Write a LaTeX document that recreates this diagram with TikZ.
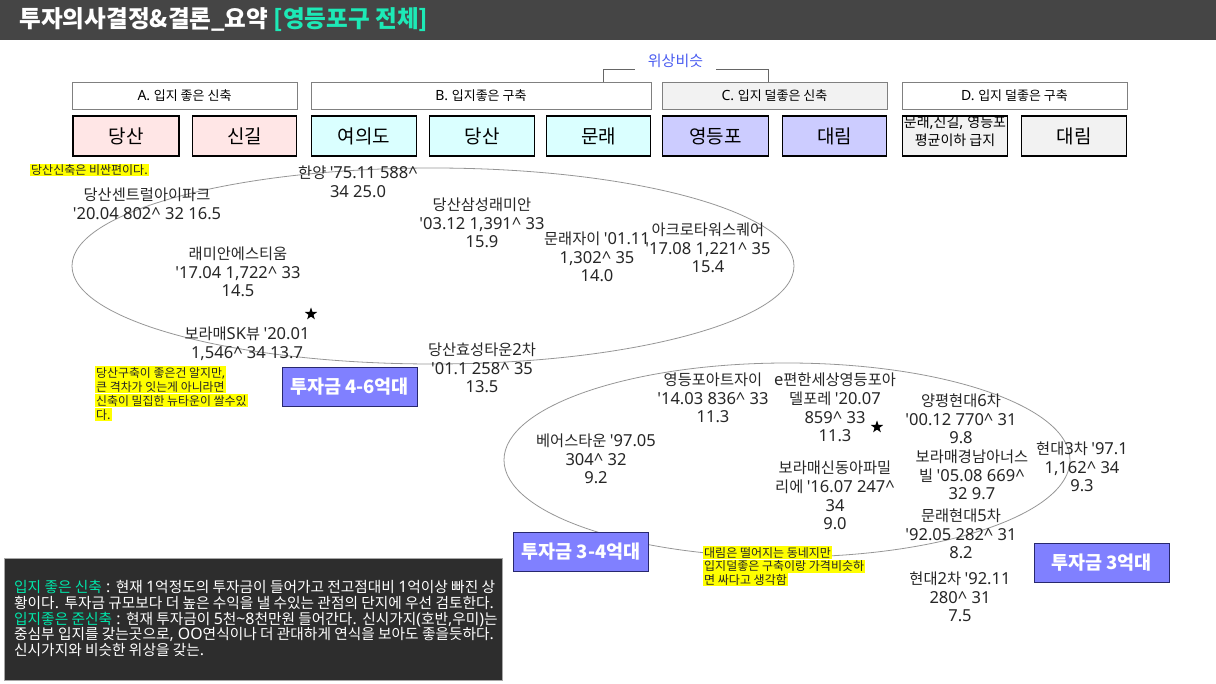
\documentclass[tikz,border=0pt]{standalone}
\usepackage{fontspec}
\newfontfamily\krfont{Noto Sans CJK KR}
\newfontfamily\latfont{Noto Sans}[Scale=1.08]
\usetikzlibrary{shapes.geometric}

% Hangul in the CJK face, everything else in the Latin face
\XeTeXinterchartokenstate=1
\newXeTeXintercharclass\hangulclass
\count255="AC00
\loop
  \XeTeXcharclass\count255=\hangulclass
  \ifnum\count255<"D7A3
  \advance\count255 by 1
\repeat
\XeTeXinterchartoks 0 \hangulclass = {\krfont}
\XeTeXinterchartoks 4095 \hangulclass = {\krfont}
\XeTeXinterchartoks \hangulclass 0 = {\latfont}
\XeTeXinterchartoks 4095 0 = {\latfont}
% bold text stays in the CJK face
\newcommand{\krbold}{\let\latfont\krfont\krfont\bfseries}

\definecolor{barGray}{RGB}{69,69,69}
\definecolor{titleGreen}{RGB}{29,233,182}
\definecolor{simBlue}{RGB}{74,92,240}
\definecolor{pinkFill}{RGB}{255,230,230}
\definecolor{cyanFill}{RGB}{218,255,255}
\definecolor{lavFill}{RGB}{204,204,255}
\definecolor{greyFill}{RGB}{242,242,242}
\definecolor{investFill}{RGB}{128,128,255}
\definecolor{investLine}{RGB}{40,40,110}
\definecolor{noteYellow}{RGB}{255,255,0}
\definecolor{memoDark}{RGB}{45,45,45}
\definecolor{memoGreen}{RGB}{0,230,170}
\definecolor{ringGray}{RGB}{150,150,150}

\setlength{\fboxsep}{1pt}
\newcommand{\hl}[1]{\colorbox{noteYellow}{#1}}
\newcommand{\crt}{\textasciicircum}

\begin{document}
\begin{tikzpicture}[x=1pt,y=-1pt,
  cathead/.style={draw=black!50, line width=0.6pt, minimum height=27pt, inner sep=0pt,
    font=\latfont\fontsize{13}{14}\selectfont},
  areabox/.style={draw=black, line width=1.8pt, minimum height=40pt, inner sep=0pt,
    font=\latfont\fontsize{19}{20}\selectfont},
  apt/.style={align=center, inner sep=0pt, text=black!85,
    font=\latfont\fontsize{15.3}{18.7}\selectfont},
  invest/.style={draw=investLine, fill=investFill, line width=0.8pt, text=white, inner sep=0pt,
    minimum height=39pt, minimum width=135pt, font=\krbold\fontsize{18.5}{20}\selectfont},
  note/.style={align=left, inner sep=0pt, text=black!85},
  starmark/.style={star, star points=5, star point ratio=2.5, fill=black, inner sep=0pt, minimum size=13pt},
  ring/.style={draw=ringGray, line width=0.8pt},
  bracket/.style={draw=black!60, line width=0.6pt}]
\useasboundingbox (0,0) rectangle (1216,684);

% Title bar
\fill[barGray] (0,0) rectangle (1216,40);
\node[anchor=west, text=white, font=\krbold\fontsize{23.6}{26}\selectfont] (title) at (16,20)
  {투자의사결정\&결론\_요약 \textcolor{titleGreen}{[영등포구 전체]}};

% Category headers
\node[cathead, minimum width=225pt] (catA) at (184.5,95.5) {A. 입지 좋은 신축};
\node[cathead, minimum width=340pt] (catB) at (481,95.5) {B. 입지좋은 구축};
\node[cathead, minimum width=225pt, fill=greyFill] (catC) at (774.5,95.5) {C. 입지 덜좋은 신축};
\node[cathead, minimum width=225pt] (catD) at (1014.5,95.5) {D. 입지 덜좋은 구축};

% Similar standing bracket
\node[text=simBlue, font=\latfont\fontsize{15}{16}\selectfont] (simlabel) at (675.5,61) {위상비슷};
\coordinate (brL) at (603,82);
\coordinate (brLm) at (635,69);
\coordinate (brRm) at (716,69);
\coordinate (brR) at (768,82);
\draw[bracket] (brL) |- (brLm);
\draw[bracket] (brRm) -| (brR);

% Areas
\node[areabox, minimum width=106pt, fill=pinkFill] (dangsanA) at (126,136) {당산};
\node[areabox, minimum width=104pt, fill=pinkFill] (singilA) at (244.5,136) {신길};
\node[areabox, minimum width=105pt, fill=cyanFill] (yeouidoB) at (364,136) {여의도};
\node[areabox, minimum width=105pt, fill=cyanFill] (dangsanB) at (482,136) {당산};
\node[areabox, minimum width=104pt, fill=cyanFill] (mullaeB) at (598.5,136) {문래};
\node[areabox, minimum width=106pt, fill=lavFill] (ydpC) at (715.5,136) {영등포};
\node[areabox, minimum width=104pt, fill=lavFill] (daerimC) at (834.5,136) {대림};
\node[areabox, minimum width=105pt, fill=greyFill] (avgD) at (955,136) {};
\node[align=center, inner sep=0pt, font=\latfont\fontsize{14}{18}\selectfont] (avgtext) at (955,131.5)
  {문래,신길, 영등포\\평균이하 급지};
\node[areabox, minimum width=105pt, fill=greyFill] (daerimD) at (1074,136) {대림};

% Price groups
\draw[ring] (433,266) ellipse [x radius=361, y radius=98];
\draw[ring] (787,460) ellipse [x radius=283, y radius=97];

% Complexes, 4-6
\node[apt] (hanyang) at (358,182) {한양 '75.11 588\crt\\34 25.0};
\node[apt] (dscentral) at (147,204) {당산센트럴아이파크\\'20.04 802\crt{} 32 16.5};
\node[apt] (raemian) at (238,272) {래미안에스티움\\'17.04 1,722\crt{} 33\\14.5};
\node[apt] (boramaesk) at (247,344) {보라매SK뷰 '20.01\\1,546\crt{} 34 13.7};
\node[apt] (dssamsung) at (482,223) {당산삼성래미안\\'03.12 1,391\crt{} 33\\15.9};
\node[apt] (mullaexi) at (597,257) {문래자이 '01.11\\1,302\crt{} 35\\14.0};
\node[apt] (acro) at (708,248) {아크로타워스퀘어\\'17.08 1,221\crt{} 35\\15.4};
\node[apt] (dshyosung) at (482,368) {당산효성타운2차\\'01.1 258\crt{} 35\\13.5};

% Complexes, 3-4 and 3
\node[apt] (ydpart) at (713,398) {영등포아트자이\\'14.03 836\crt{} 33\\11.3};
\node[apt] (eplus) at (835,407.5) {e편한세상영등포아\\델포레 '20.07\\859\crt{} 33\\11.3};
\node[apt] (bears) at (596,459) {베어스타운 '97.05\\304\crt{} 32\\9.2};
\node[apt] (boramaesd) at (835,495.5) {보라매신동아파밀\\리에 '16.07 247\crt\\34\\9.0};
\node[apt] (ypsix) at (961,419) {양평현대6차\\'00.12 770\crt{} 31\\9.8};
\node[apt] (boramaekn) at (972,475) {보라매경남아너스\\빌 '05.08 669\crt\\32 9.7};
\node[apt] (mullaefive) at (961,534) {문래현대5차\\'92.05 282\crt{} 31\\8.2};
\node[apt] (hdtwo) at (960,597) {현대2차 '92.11\\280\crt{} 31\\7.5};
\node[apt] (hdthree) at (1082,467) {현대3차 '97.1\\1,162\crt{} 34\\9.3};

\node[starmark] (starA) at (311,314) {};
\node[starmark] (starB) at (877,427) {};

% Investment tags
\node[invest] (investA) at (349.5,386.5) {투자금 4-6억대};
\node[invest] (investB) at (581,552) {투자금 3-4억대};
\node[invest] (investC) at (1101.5,562.5) {투자금 3억대};

% Notes
\node[note, anchor=west, font=\latfont\fontsize{12}{14}\selectfont] (noteA) at (30,170)
  {\hl{당산신축은 비싼편이다.}};
\node[note, anchor=north west, font=\latfont\fontsize{11.9}{14}\selectfont] (noteB) at (95,366)
  {\hl{당산구축이 좋은건 알지만,}\\\hl{큰 격차가 잇는게 아니라면}\\\hl{신축이 밀집한 뉴타운이 쌀수있}\\\hl{다.}};
\node[note, anchor=north west, font=\latfont\fontsize{12}{13.5}\selectfont] (noteC) at (703,546)
  {\hl{대림은 떨어지는 동네지만}\\\hl{입지덜좋은 구축이랑 가격비슷하}\\\hl{면 싸다고 생각함}};

% Memo
\node[draw=black!35, fill=memoDark, anchor=north west, minimum width=498pt, minimum height=122pt,
  inner sep=0pt] (memobox) at (4,558) {};
\node[anchor=north west, align=left, inner sep=0pt, text=white,
  font=\latfont\fontsize{14.7}{15.8}\selectfont] (memo) at (14,580)
  {\textcolor{memoGreen}{입지 좋은 신축} : 현재 1억정도의 투자금이 들어가고 전고점대비 1억이상 빠진 상\\
   황이다. 투자금 규모보다 더 높은 수익을 낼 수있는 관점의 단지에 우선 검토한다.\\
   \textcolor{memoGreen}{입지좋은 준신축} : 현재 투자금이 5천\textasciitilde8천만원 들어간다. 신시가지(호반,우미)는\\
   중심부 입지를 갖는곳으로, OO연식이나 더 관대하게 연식을 보아도 좋을듯하다.\\
   신시가지와 비슷한 위상을 갖는.};
\end{tikzpicture}
\end{document}
